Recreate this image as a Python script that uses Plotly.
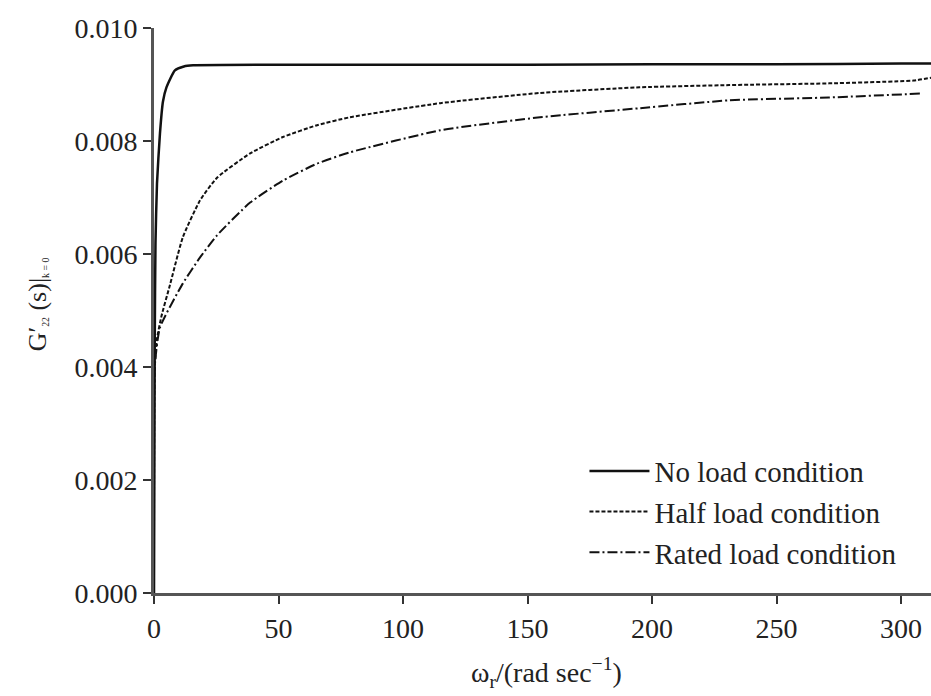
import plotly.graph_objects as go

# ---- data ----
no_load_x = [0, 0.3, 0.6, 1.2, 2.4, 3.6, 5, 8.4, 12, 15.7, 50, 100, 150, 200, 250, 300, 312]
no_load_y = [0, 0.0045, 0.0062, 0.00725, 0.00814, 0.0087, 0.00895, 0.00925, 0.00932, 0.00934,
             0.00935, 0.00935, 0.00935, 0.00936, 0.00936, 0.00937, 0.00937]

half_x = [0, 0.3, 1.2, 3, 6.4, 11.6, 18.5, 25.3, 38.6, 51.8, 65.5, 78.7, 115, 155, 195, 231, 271, 305, 312]
half_y = [0, 0.0040, 0.0045, 0.0049, 0.00545, 0.0063, 0.00695, 0.00735, 0.00778, 0.00807,
          0.00828, 0.00842, 0.00867, 0.00885, 0.00895, 0.00899, 0.00902, 0.00907, 0.00912]

rated_x = [0, 0.3, 2.4, 11.6, 18.5, 25.3, 38.6, 51.8, 65.5, 78.7, 115, 155, 195, 231, 271, 308]
rated_y = [0, 0.0040, 0.0047, 0.00548, 0.00594, 0.00633, 0.00691, 0.0073, 0.0076, 0.0078,
           0.00819, 0.00842, 0.00858, 0.00872, 0.00877, 0.00884]

names = ["No load condition", "Half load condition", "Rated load condition"]
x_ticks = [0, 50, 100, 150, 200, 250, 300]
y_ticks = [0.000, 0.002, 0.004, 0.006, 0.008, 0.010]

FONT = "Liberation Serif"

fig = go.Figure()
fig.add_trace(go.Scatter(x=no_load_x, y=no_load_y, mode="lines", name=names[0], legendgroup="a",
                         line=dict(color="#111", width=2.5, shape="spline", smoothing=0.5)))
fig.add_trace(go.Scatter(x=half_x, y=half_y, mode="lines", name=names[1], legendgroup="b",
                         line=dict(color="#111", width=2, dash="4px,2px", shape="spline", smoothing=0.5)))
fig.add_trace(go.Scatter(x=rated_x, y=rated_y, mode="lines", name=names[2], legendgroup="c",
                         line=dict(color="#111", width=2, dash="10px,3px,2px,3px", shape="spline", smoothing=0.5)))

fig.update_layout(
    width=931, height=696,
    margin=dict(l=154, r=0, t=28, b=103),
    paper_bgcolor="white", plot_bgcolor="white",
    font=dict(family=FONT, size=28, color="#222"),
    showlegend=True,
    legend=dict(x=0.554, y=0.261, xanchor="left", yanchor="top",
                bgcolor="rgba(0,0,0,0)", font=dict(family=FONT, size=29, color="#222"),
                tracegroupgap=0, itemwidth=60),
    xaxis=dict(range=[0, 312], tickvals=x_ticks, ticktext=[str(v) for v in x_ticks],
               showgrid=False, zeroline=False, showline=True, linecolor="#555", linewidth=3,
               ticks="outside", ticklen=8, tickwidth=2, tickcolor="#333",
               tickfont=dict(family=FONT, size=28, color="#222")),
    yaxis=dict(range=[0, 0.010], tickvals=y_ticks, ticktext=[f"{v:.3f}" for v in y_ticks],
               showgrid=False, zeroline=False, showline=True, linecolor="#555", linewidth=3,
               ticks="outside", ticklen=8, tickwidth=2, tickcolor="#333",
               tickfont=dict(family=FONT, size=28, color="#222")),
    annotations=[
        dict(text="ω<sub>r</sub>/(rad sec<sup>−1</sup>)", xref="paper", yref="paper",
             x=(546 - 154) / 777, y=-(672 - 592.7) / 565, xanchor="center", yanchor="middle",
             showarrow=False, font=dict(family=FONT, size=28, color="#222")),
        dict(text="G′<span style='font-size:14px'><sub>22</sub></span> (s)|"
                  "<span style='font-size:14px'><sub>k = 0</sub></span>",
             xref="paper", yref="paper",
             x=-(154 - 37) / 777, y=(592.7 - 304) / 565, xanchor="center", yanchor="middle",
             textangle=-90, showarrow=False, font=dict(family=FONT, size=26, color="#222")),
    ],
)

fig.write_html("out.html")
